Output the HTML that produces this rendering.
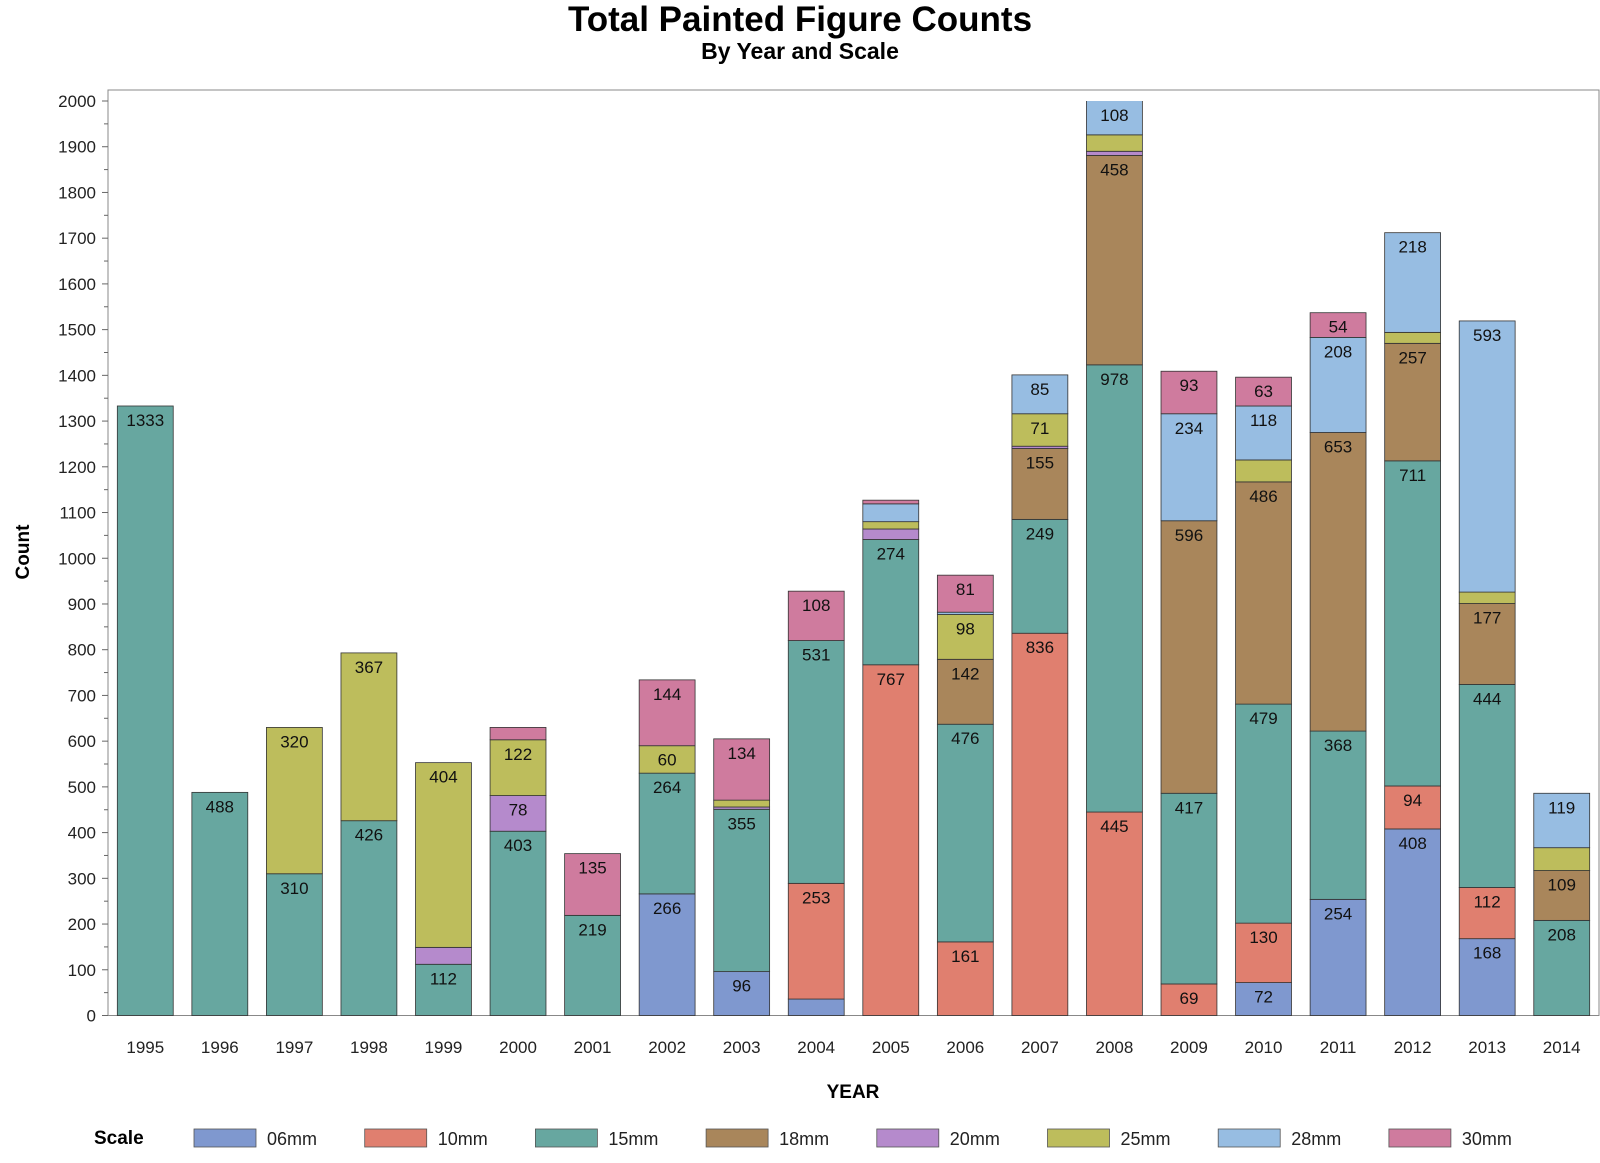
<!DOCTYPE html>
<html><head><meta charset="utf-8"><style>
body{margin:0;background:#fff}
svg{display:block;font-family:"Liberation Sans",Arial,sans-serif}
</style></head><body>
<svg id="chart" width="1600" height="1163" viewBox="0 0 1600 1163">
<text x="800" y="31" text-anchor="middle" font-size="35" font-weight="bold">Total Painted Figure Counts</text>
<text x="800" y="59" text-anchor="middle" font-size="23" font-weight="bold">By Year and Scale</text>
<text transform="translate(29,552) rotate(-90)" text-anchor="middle" font-size="19" font-weight="bold">Count</text>
<text x="853" y="1098" text-anchor="middle" font-size="19" font-weight="bold">YEAR</text>
<g id="plot"></g>
<g id="legend"></g>
</svg>
<script>
const years = ["1995","1996","1997","1998","1999","2000","2001","2002","2003","2004","2005","2006","2007","2008","2009","2010","2011","2012","2013","2014"];
const scales = ["06mm","10mm","15mm","18mm","20mm","25mm","28mm","30mm"];
const colors = ["#7f98cf","#e07f6f","#67a7a0","#a9865b","#b58acc","#bdbd5c","#97bde2","#cf7b9e"];
const s06 = [0,0,0,0,0,0,0,266,96,36,0,0,0,0,0,72,254,408,168,0];
const s10 = [0,0,0,0,0,0,0,0,0,253,767,161,836,445,69,130,0,94,112,0];
const s15 = [1333,488,310,426,112,403,219,264,355,531,274,476,249,978,417,479,368,711,444,208];
const s18 = [0,0,0,0,0,0,0,0,0,0,0,142,155,458,596,486,653,257,177,109];
const s20 = [0,0,0,0,37,78,0,0,5,0,23,0,5,9,0,0,0,0,0,0];
const s25 = [0,0,320,367,404,122,0,60,15,0,16,98,71,36,0,48,0,24,25,50];
const s28 = [0,0,0,0,0,0,0,0,0,0,39,5,85,108,234,118,208,218,593,119];
const s30 = [0,0,0,0,0,27,135,144,134,108,8,81,0,0,93,63,54,0,0,0];
const yTicks = [0,100,200,300,400,500,600,700,800,900,1000,1100,1200,1300,1400,1500,1600,1700,1800,1900,2000];

const series = [s06,s10,s15,s18,s20,s25,s28,s30];
const NS = "http://www.w3.org/2000/svg";
const L = 108, R = 1599, T = 90, B = 1015.5, YTOP = 101;
const yMax = 2000;
const y = v => B - v / yMax * (B - YTOP);
const band = (R - L) / years.length;
const xc = i => L + band * (i + 0.5);
const bw = band * 0.75;
function mk(tag, attrs, parent){const e=document.createElementNS(NS,tag);for(const k in attrs)e.setAttribute(k,attrs[k]);parent.appendChild(e);return e;}
const plot = document.getElementById('plot');
const defs = mk('defs',{},plot);
const cp = mk('clipPath',{id:'clip'},defs);
mk('rect',{x:L,y:YTOP,width:R-L,height:B-YTOP+2},cp);

const frame = mk('rect',{x:L,y:T,width:R-L,height:B-T,fill:'none',stroke:'#888','stroke-width':1},plot);



yTicks.forEach((t,i)=>{
  const ty=y(t);
  mk('line',{x1:L-6,x2:L,y1:ty,y2:ty,stroke:'#666'},plot);
  const lab=mk('text',{x:L-12,y:ty+6,'text-anchor':'end','font-size':17,fill:'#222'},plot);
  lab.textContent=t;
  
  
  if(i<yTicks.length-1){const my=y(t+50);mk('line',{x1:L-4,x2:L,y1:my,y2:my,stroke:'#666'},plot);}
});

const bars = mk('g',{'clip-path':'url(#clip)'},plot);
const labels = mk('g',{},plot);
years.forEach((yr,i)=>{
  let cum=0;
  series.forEach((s,k)=>{
    const v=s[i]; if(!v) return;
    const y0=y(cum), y1=y(cum+v);
    const r=mk('rect',{x:xc(i)-bw/2,y:y1,width:bw,height:y0-y1,fill:colors[k],stroke:'#333','stroke-width':0.8},bars);
    
    
    if(v>=52){
      const ly=Math.max(y1,YTOP);
      const t=mk('text',{x:xc(i),y:ly+20,'text-anchor':'middle','font-size':17,fill:'#111'},labels);
      t.textContent=v;
      
      
    }
    cum+=v;
  });
  const xl=mk('text',{x:xc(i),y:1053,'text-anchor':'middle','font-size':17,fill:'#222'},plot);
  xl.textContent=yr;
  
  
});

const lg=document.getElementById('legend');
const st=mk('text',{x:94,y:1144,'font-size':19,'font-weight':'bold'},lg);
st.textContent='Scale';


scales.forEach((s,k)=>{
  const x0=194+k*170.7;
  const g=mk('g',{},lg);
  
  
  mk('rect',{x:x0,y:1129,width:62,height:18,fill:colors[k],stroke:'#555','stroke-width':0.8},g);
  const t=mk('text',{x:x0+73,y:1145,'font-size':18,fill:'#222'},g);
  t.textContent=s;
});
</script>
</body></html>
